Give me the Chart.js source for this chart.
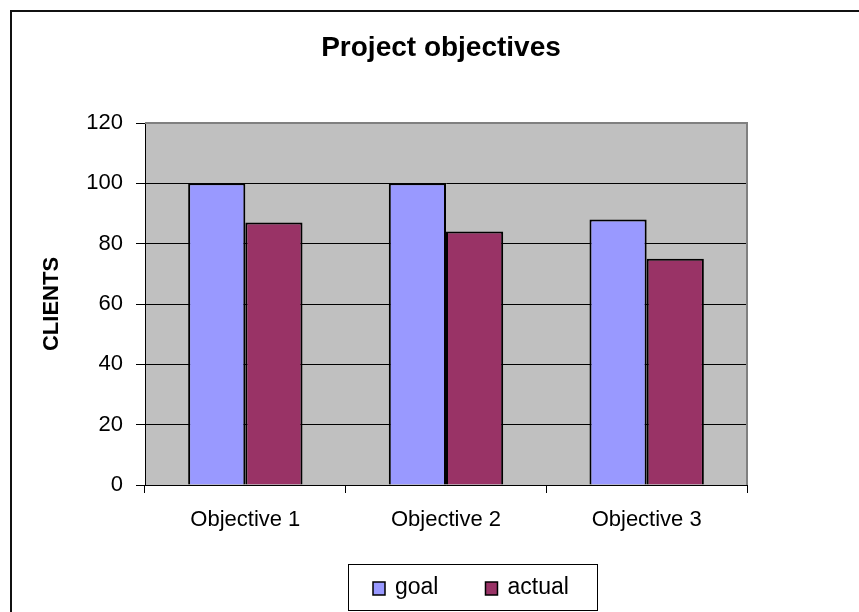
<!DOCTYPE html>
<html>
<head>
<meta charset="utf-8">
<title>Project objectives</title>
<script src="https://cdn.jsdelivr.net/npm/chart.js@4"></script>
<style>
  html, body { margin: 0; padding: 0; background: #fff; }
  #wrap { width: 859px; height: 612px; }
</style>
</head>
<body>
<div id="wrap"><canvas id="chart" width="859" height="612"></canvas></div>
<script>
// data
const categories = ['Objective 1', 'Objective 2', 'Objective 3'];
const goalValues = [100, 100, 88];
const actualValues = [87, 84, 75];
const yTicks = [0, 20, 40, 60, 80, 100, 120];
const chartTitle = 'Project objectives';

const FONT = '"Liberation Sans", Arial, sans-serif';

// gray plot area, outer frame, plot border, title
const plotFrame = {
  id: 'plotFrame',
  beforeDraw(chart) {
    const { ctx, chartArea: a } = chart;
    ctx.save();
    ctx.strokeStyle = '#111';
    ctx.lineWidth = 2;
    ctx.beginPath();
    ctx.moveTo(11, chart.height + 5);
    ctx.lineTo(11, 11);
    ctx.lineTo(chart.width + 5, 11);
    ctx.stroke();
    ctx.fillStyle = '#c0c0c0';
    ctx.fillRect(a.left, a.top, a.right - a.left, a.bottom - a.top);

    // title sits a bit right of the canvas centre in the original
    ctx.fillStyle = '#000';
    ctx.font = 'bold 28px ' + FONT;
    ctx.textAlign = 'center';
    ctx.textBaseline = 'middle';
    ctx.fillText(chartTitle, 441, 48);
    ctx.restore();
  },
  beforeDatasetsDraw(chart) {
    const { ctx, chartArea: a } = chart;
    ctx.save();
    ctx.strokeStyle = '#808080';
    ctx.lineWidth = 2;
    ctx.beginPath();
    ctx.moveTo(a.left, a.top);
    ctx.lineTo(a.right, a.top);
    ctx.lineTo(a.right, a.bottom);
    ctx.stroke();
    ctx.restore();
  }
};

// boxed legend like the original (sits right of centre)
const boxLegend = {
  id: 'boxLegend',
  afterDraw(chart) {
    const { ctx } = chart;
    const box = { x: 348.5, y: 564.5, w: 249, h: 46 };
    ctx.save();
    ctx.strokeStyle = '#000';
    ctx.lineWidth = 1;
    ctx.fillStyle = '#fff';
    ctx.fillRect(box.x, box.y, box.w, box.h);
    ctx.strokeRect(box.x, box.y, box.w, box.h);
    ctx.font = '23px ' + FONT;
    ctx.textBaseline = 'middle';
    let x = 373;
    const cy = 588;
    chart.data.datasets.forEach(ds => {
      ctx.fillStyle = ds.backgroundColor;
      ctx.fillRect(x, cy - 6, 12, 13);
      ctx.strokeStyle = '#000';
      ctx.lineWidth = 1.5;
      ctx.strokeRect(x, cy - 6, 12, 13);
      ctx.fillStyle = '#000';
      ctx.fillText(ds.label, x + 22, cy);
      x += 22 + ctx.measureText(ds.label).width + 47;
    });
    ctx.restore();
  }
};

new Chart(document.getElementById('chart'), {
  type: 'bar',
  data: {
    labels: categories,
    datasets: [
      {
        label: 'goal',
        data: goalValues,
        backgroundColor: '#9999ff',
        borderColor: '#000',
        borderWidth: 2,
        categoryPercentage: 0.57,
        barPercentage: 1.0
      },
      {
        label: 'actual',
        data: actualValues,
        backgroundColor: '#993366',
        borderColor: '#000',
        borderWidth: 2,
        categoryPercentage: 0.57,
        barPercentage: 1.0
      }
    ]
  },
  options: {
    responsive: false,
    animation: false,
    devicePixelRatio: 1,
    layout: { padding: { left: 0, right: 112, top: 123, bottom: 0 } },
    plugins: {
      legend: { display: false },
      tooltip: { enabled: false },
      title: { display: false }
    },
    scales: {
      x: {
        grid: {
          offset: true,
          drawOnChartArea: false,
          drawTicks: true,
          tickLength: 8,
          color: '#000'
        },
        border: { display: true, color: '#000', width: 1 },
        ticks: {
          color: '#000',
          padding: 14,
          font: { family: FONT, size: 22 }
        },
        afterFit(s) { s.height = 127; }
      },
      y: {
        min: yTicks[0],
        max: yTicks[yTicks.length - 1],
        ticks: {
          stepSize: yTicks[1] - yTicks[0],
          color: '#000',
          padding: 13,
          font: { family: FONT, size: 22 }
        },
        grid: {
          color: ctx => (ctx.tick && ctx.tick.value === yTicks[yTicks.length - 1]) ? '#808080' : '#000',
          lineWidth: 1,
          tickColor: '#000',
          tickLength: 9
        },
        border: { display: true, color: '#000', width: 1 },
        title: {
          display: true,
          text: 'CLIENTS',
          color: '#000',
          font: { family: FONT, size: 22, weight: 'bold' },
          padding: { top: 39, bottom: 0 }
        },
        afterFit(s) { s.width = 145; }
      }
    }
  },
  plugins: [plotFrame, boxLegend]
});
</script>
</body>
</html>
